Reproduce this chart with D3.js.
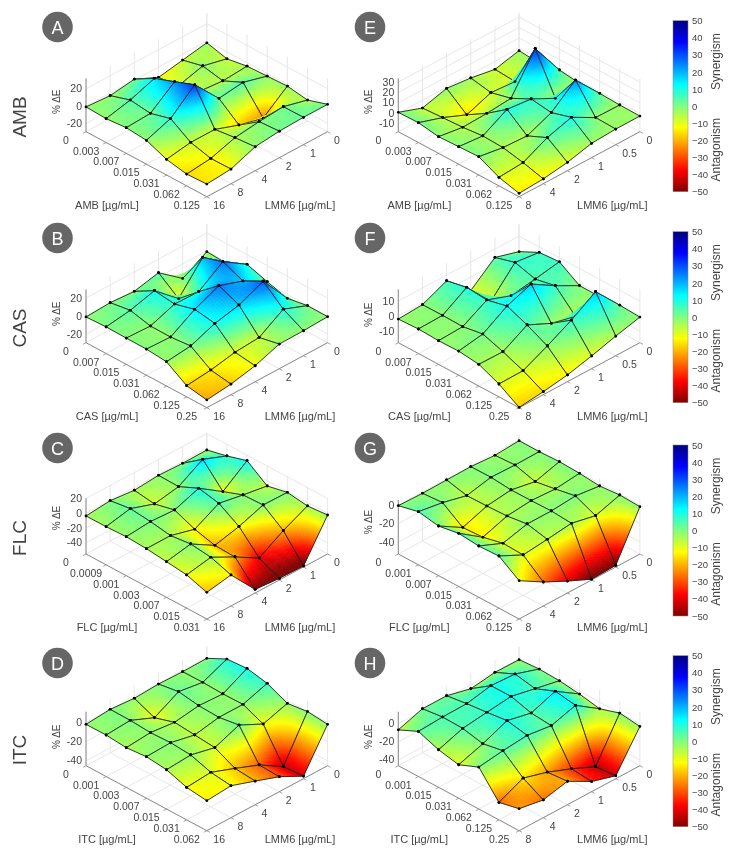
<!DOCTYPE html>
<html>
<head>
<meta charset="utf-8">
<script src="https://cdnjs.cloudflare.com/ajax/libs/d3/7.8.5/d3.min.js"></script>
<style>
body { margin: 0; background: #fff; }
svg { filter: blur(0.4px); }
text { font-family: "Liberation Sans", Arial, sans-serif; fill: #444; }
</style>
</head>
<body>
<div id="chart"></div>
<script>
// axis categories
var lmmLeft = ["16", "8", "4", "2", "1", "0"];
var lmmRight = ["8", "4", "2", "1", "0.5", "0"];
var amb = ["0", "0.003", "0.007", "0.015", "0.031", "0.062", "0.125"];
var cas = ["0", "0.007", "0.015", "0.031", "0.062", "0.125", "0.25"];
var flcLeft = ["0", "0.0009", "0.001", "0.003", "0.007", "0.015", "0.031"];
var flcRight = ["0", "0.001", "0.007", "0.015", "0.031", "0.062", "0.125"];
var itcLeft = ["0", "0.001", "0.003", "0.007", "0.015", "0.031", "0.062"];
var itcRight = ["0", "0.001", "0.015", "0.031", "0.062", "0.125", "0.25"];

// % dE: one row per drug dose, columns follow the LMM6 list
var valuesA = [
  [-1, -3, 1, -12, -7, -2],
  [-2, 4.4, 14.4, -9, -1.3, -8],
  [0, 1.5, 23, -3.5, -6, -4],
  [-2, 8, 32, 1.3, 4.8, -3],
  [-11.5, -7, -7, -17, -24, -2],
  [-16, -13, -4, -0.5, 1.7, -5.6],
  [-15, -12.7, -2, 1, 2, 2]
];
var valuesB = [
  [-1, 0.4, -1.5, 4.8, -16, -0.7],
  [0, 3.9, 11.3, -12, 19.4, -2],
  [-0.4, -1.5, 8.5, 7.8, 26.7, 9.3],
  [-0.6, -1.7, 14.6, 26.5, 17.2, 2],
  [-2.6, 0.4, 11, 17, 29, -4.4],
  [-17.2, -14.3, -9, -7, 10, -0.5],
  [-21, -17.8, -11.9, -2.2, -1.9, -0.7]
];
var valuesC = [
  [-3.6, -0.5, -4, -1.4, -2.7, -2.3],
  [-3.4, 3.4, -7.9, -2, 17.3, 4.3],
  [-2.3, 0.5, -1.4, 10.4, -11.7, 12.6],
  [-3.8, -3.8, -12.8, 4.7, -1.6, -7],
  [-6.8, -0.5, -20, -12, -0.5, -1],
  [-10, -3.8, -21, -40, -20.5, -4.7],
  [-19, -13, -50, -52.7, -53.6, -2.3]
];
var valuesD = [
  [-2, 0, -2, -0.7, -1.4, -1],
  [-1.9, -0.2, -11, 2.6, -1.2, 9.5],
  [-3.8, -1.7, -4.5, -0.7, -2, 11],
  [-1.9, -0.9, -6.4, -1.6, -1.6, 6.8],
  [-4.2, -2.4, -8.3, 1.7, -10.8, -2.8],
  [-11.3, -9.2, -18.6, -28.6, -43.9, 0],
  [-13.9, -11.8, -20.5, -29.5, -42.4, -2]
];
var valuesE = [
  [1, -7.4, -1, -3.5, -7.7, -2.2],
  [1.4, -6.2, -16, -7.2, -9, -4],
  [-1.6, -5.1, -4.2, -2.2, 33, 0],
  [-0.8, -3, 10, 7.5, -4.3, -2.4],
  [0, -3.8, -5, 4.8, 23.6, -1.6],
  [-9.4, -7.8, 3.7, 10.7, -2, -2.4],
  [-14.4, -13, -9.6, -3.8, -2.6, -2.6]
];
var valuesF = [
  [-2, -1.1, 6.2, -9, 4.4, -0.4],
  [-1.4, -1, 9, -9, 8.3, 6.3],
  [-2, -1.3, 7.8, 2, 4.4, 7.3],
  [-1.7, 1, 11, 17, 7.2, -1.4],
  [-3.3, -3.6, 5.6, -2, -6, -1.5],
  [-9.2, -9, -1.2, 7.4, 17.7, 0],
  [-17.6, -15.8, -13.3, -9.3, -4.7, -0.7]
];
var valuesG = [
  [-0.7, -1.4, -1, -0.7, -2.5, -0.7],
  [4.5, 0.2, -6.3, -0.5, -1.3, -0.9],
  [0.7, -15, -5.8, -2.5, -7.6, 0],
  [4.5, -13.8, -4.9, -2.3, -3.8, -0.9],
  [2.5, -8.6, -1.8, -1.8, 0.4, -2.9],
  [3.4, -9.5, -6.7, -3.4, -9.2, -0.9],
  [-11.5, -27, -40, -52, -51, -1.8]
];
var valuesH = [
  [-6.7, 2.2, 2.2, -4.4, -0.7, -1],
  [3.5, 5, 5.4, 10.9, 9.4, 0.6],
  [-4.8, 4.4, 7.8, 11, 5.2, -0.4],
  [-9.4, -0.6, 10.6, 4.6, 14.3, -3.1],
  [0, 3.7, 6.3, 2.6, 10.7, -7.4],
  [-27, -14.6, -22.4, -33, -45, -0.2],
  [-22, -26.7, -20.4, -35, -43, -3]
];

var barTicks = [50, 40, 30, 20, 10, 0, -10, -20, -30, -40, -50];

// x, y = left corner of the floor
var panels = [
  {id: "A", drug: "AMB", doses: amb, lmm: lmmLeft, values: valuesA, zlim: [-29.6, 31.9], zticks: [-20, 0, 20], h: 53.3, x: 86, y: 131.7, zlab: -30},
  {id: "B", drug: "CAS", doses: cas, lmm: lmmLeft, values: valuesB, zlim: [-29.6, 29.6], zticks: [-20, 0, 20], h: 53.3, x: 86, y: 342.7, zlab: -29},
  {id: "C", drug: "FLC", doses: flcLeft, lmm: lmmLeft, values: valuesC, zlim: [-55, 20.3], zticks: [-40, -20, 0, 20], h: 55.7, x: 86, y: 554, zlab: -36},
  {id: "D", drug: "ITC", doses: itcLeft, lmm: lmmLeft, values: valuesD, zlim: [-45.1, 11.1], zticks: [-40, -20, 0], h: 54, x: 86, y: 765.7, zlab: -29},
  {id: "E", drug: "AMB", doses: amb, lmm: lmmRight, values: valuesE, zlim: [-17.6, 33.5], zticks: [-10, 0, 10, 20, 30], h: 53.3, x: 398.3, y: 131.7, zlab: -30},
  {id: "F", drug: "CAS", doses: cas, lmm: lmmRight, values: valuesF, zlim: [-17.8, 17.8], zticks: [-10, 0, 10], h: 53.3, x: 398.3, y: 342.7, zlab: -28},
  {id: "G", drug: "FLC", doses: flcRight, lmm: lmmRight, values: valuesG, zlim: [-52.9, 5.4], zticks: [-40, -20, 0], h: 54, x: 398.3, y: 554, zlab: -32},
  {id: "H", drug: "ITC", doses: itcRight, lmm: lmmRight, values: valuesH, zlim: [-46.3, 13.3], zticks: [-40, -20, 0], h: 54, x: 398.3, y: 765.7, zlab: -29}
];

var badges = {
  A: [57.5, 27], B: [57.5, 238], C: [57.5, 448], D: [57.5, 663],
  E: [370, 27], F: [370, 238], G: [370, 448], H: [370, 663]
};
var rowLabels = [["AMB", 117], ["CAS", 328], ["FLC", 538], ["ITC", 750]];
var barTops = [20.7, 231.7, 445, 655.7];

var color = d3.scaleLinear()
  .domain([-50, -37.5, -12.5, 12.5, 37.5, 50])
  .range(["#800000", "#ff0000", "#ffff00", "#00ffff", "#0000ff", "#000080"])
  .clamp(true);

var svg = d3.select("#chart").append("svg")
  .attr("width", 734)
  .attr("height", 856);

var gridColor = "#e4e4e4", axisColor = "#8a8a8a";
var footDx = 120.8, footDy = 65; // floor edge length on screen

panels.forEach(drawPanel);

rowLabels.forEach(function(d) {
  svg.append("text")
    .attr("transform", "translate(26," + d[1] + ") rotate(-90)")
    .attr("text-anchor", "middle")
    .style("font-size", "19px")
    .text(d[0]);
});

Object.keys(badges).forEach(function(k) {
  svg.append("circle")
    .attr("cx", badges[k][0]).attr("cy", badges[k][1]).attr("r", 15.3)
    .attr("fill", "#666");
  svg.append("text")
    .attr("x", badges[k][0]).attr("y", badges[k][1] + 6.5)
    .attr("text-anchor", "middle")
    .style("font-size", "18px")
    .style("fill", "#fff")
    .text(k);
});

// colour bars
var defs = svg.append("defs");
var grad = defs.append("linearGradient")
  .attr("id", "jet").attr("x1", 0).attr("x2", 0).attr("y1", 1).attr("y2", 0);
color.domain().forEach(function(v) {
  grad.append("stop").attr("offset", (v + 50) / 100).attr("stop-color", color(v));
});

barTops.forEach(function(top) {
  var y = d3.scaleLinear().domain([-50, 50]).range([top + 171, top]);
  var g = svg.append("g").attr("transform", "translate(673,0)");
  g.append("rect")
    .attr("y", top).attr("width", 15).attr("height", 171)
    .attr("fill", "url(#jet)")
    .attr("stroke", "#888").attr("stroke-width", 0.5);
  var ax = g.append("g").attr("transform", "translate(15,0)")
    .call(d3.axisRight(y).tickValues(barTicks).tickSize(0).tickPadding(4));
  ax.select(".domain").remove();
  ax.selectAll("text").style("font-size", "9.5px").style("font-family", null);
  g.append("text")
    .attr("transform", "translate(47," + (top + 41) + ") rotate(-90)")
    .attr("text-anchor", "middle").style("font-size", "12px").text("Synergism");
  g.append("text")
    .attr("transform", "translate(47," + (top + 129) + ") rotate(-90)")
    .attr("text-anchor", "middle").style("font-size", "12px").text("Antagonism");
});

function drawPanel(p) {
  var g = svg.append("g");
  var u = d3.scalePoint().domain(d3.range(p.doses.length)).range([0, 1]);
  var v = d3.scalePoint().domain(d3.range(p.lmm.length)).range([0, 1]);
  var z = d3.scaleLinear().domain(p.zlim).range([0, -p.h]);

  // a, b run 0..1 along the floor, h is the lift in px
  function project(a, b, h) {
    return [p.x + footDx * (a + b), p.y + footDy * (a - b) + h];
  }

  function line(pts, stroke, width) {
    g.append("path")
      .attr("d", d3.line()(pts))
      .attr("fill", "none")
      .attr("stroke", stroke)
      .attr("stroke-width", width);
  }

  // floor and back walls
  var top = z(p.zlim[1]);
  u.domain().forEach(function(i) {
    line([project(u(i), 0, 0), project(u(i), 1, 0), project(u(i), 1, top)], gridColor, 0.9);
  });
  v.domain().forEach(function(m) {
    line([project(1, v(m), 0), project(0, v(m), 0), project(0, v(m), top)], gridColor, 0.9);
  });
  p.zticks.forEach(function(t) {
    line([project(0, 0, z(t)), project(0, 1, z(t)), project(1, 1, z(t))], gridColor, 0.9);
  });

  // axes
  line([project(0, 0, top), project(0, 0, 0), project(1, 0, 0), project(1, 1, 0)], axisColor, 1);

  u.domain().forEach(function(i) {
    var c = project(u(i), 0, 0);
    line([c, [c[0] - 3, c[1] + 1.6]], axisColor, 0.8);
    g.append("text")
      .attr("x", c[0] - 20).attr("y", c[1] + 12)
      .attr("text-anchor", "middle")
      .style("font-size", "10.5px")
      .text(p.doses[i]);
  });
  v.domain().forEach(function(m) {
    var c = project(1, v(m), 0);
    line([c, [c[0] + 3, c[1] + 1.6]], axisColor, 0.8);
    g.append("text")
      .attr("x", c[0] + 6.5).attr("y", c[1] + 12)
      .style("font-size", "10.5px")
      .text(p.lmm[m]);
  });
  p.zticks.forEach(function(t) {
    g.append("text")
      .attr("x", p.x - 4).attr("y", p.y + z(t) + 3.5)
      .attr("text-anchor", "end")
      .style("font-size", "10.5px")
      .text(t);
  });

  g.append("text")
    .attr("transform", "translate(" + (p.x - 26) + "," + (p.y + p.zlab) + ") rotate(-90)")
    .attr("text-anchor", "middle")
    .style("font-size", "10px")
    .text("% \u0394E");
  g.append("text")
    .attr("x", p.x + 21).attr("y", p.y + 77)
    .attr("text-anchor", "middle")
    .style("font-size", "11px")
    .text(p.drug + " [\u00b5g/mL]");
  g.append("text")
    .attr("x", p.x + 214).attr("y", p.y + 77)
    .attr("text-anchor", "middle")
    .style("font-size", "11px")
    .text("LMM6 [\u00b5g/mL]");

  // surface, back cell first so that nearer cells cover it
  var vals = p.values;
  var surface = d3.line();
  d3.range(vals.length - 1).forEach(function(i) {
    d3.range(p.lmm.length - 2, -1, -1).forEach(function(m) {
      var ua = u(i), ub = u(i + 1), va = v(m), vb = v(m + 1);
      var four = [vals[i][m], vals[i + 1][m], vals[i][m + 1], vals[i + 1][m + 1]];
      // steep cells get finer shading so the colour bands don't show
      var steps = Math.max(6, Math.min(28, Math.ceil((d3.max(four) - d3.min(four)) / 1.6)));

      function lerp(s, t) {
        return four[0] * (1 - s) * (1 - t) + four[1] * s * (1 - t) +
          four[2] * (1 - s) * t + four[3] * s * t;
      }
      function at(s, t) {
        return project(ua + (ub - ua) * s, va + (vb - va) * t, z(lerp(s, t)));
      }

      d3.range(steps).forEach(function(a) {
        d3.range(steps - 1, -1, -1).forEach(function(b) {
          var s0 = a / steps, s1 = (a + 1) / steps, t0 = b / steps, t1 = (b + 1) / steps;
          var c = color(lerp((s0 + s1) / 2, (t0 + t1) / 2));
          g.append("path")
            .attr("d", surface([at(s0, t0), at(s1, t0), at(s1, t1), at(s0, t1)]) + "Z")
            .attr("fill", c)
            .attr("stroke", c)
            .attr("stroke-width", 0.6);
        });
      });

      var corners = [at(0, 0), at(1, 0), at(1, 1), at(0, 1)];
      g.append("path")
        .attr("d", surface(corners) + "Z")
        .attr("fill", "none")
        .attr("stroke", "#222")
        .attr("stroke-width", 0.9);
      corners.forEach(function(c) {
        g.append("circle")
          .attr("cx", c[0]).attr("cy", c[1]).attr("r", 1.4)
          .attr("fill", "#000");
      });
    });
  });
}
</script>
</body>
</html>
